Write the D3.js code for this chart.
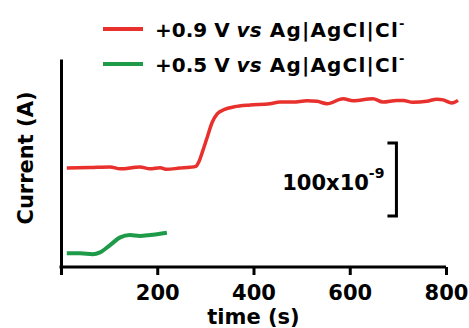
<!DOCTYPE html>
<html>
<head>
<meta charset="utf-8">
<script src="https://cdn.jsdelivr.net/npm/d3@7"></script>
<style>
  body { margin: 0; background: #fff; }
  text { font-family: "DejaVu Sans", sans-serif; font-weight: bold; fill: #000; }
</style>
</head>
<body>
<svg id="chart" width="469" height="328"></svg>
<script>
// time (s) and current (nA)
var redT = [12, 60, 102, 123, 164, 185, 206, 220, 247, 268, 280, 287, 294, 303, 314, 325, 340, 360, 393, 434, 455, 482, 511, 532, 553, 586, 607, 648, 669, 698, 711, 731, 760, 781, 794, 812, 825];
var redI = [135.6, 136.3, 137, 134.5, 137, 134.5, 136, 133.8, 135.6, 136.6, 138, 145, 158, 176, 198, 210, 216, 219.5, 222, 223.7, 226, 226, 227.8, 227, 223.7, 230.6, 227.8, 230.6, 226, 228.3, 228.3, 225.6, 227, 230, 229, 224.7, 228.3];
var greenT = [12, 40, 66, 81, 102, 123, 143, 164, 185, 220];
var greenI = [18.7, 18.7, 17.4, 20, 30, 40.6, 43.8, 42.5, 43.8, 47];
var xTicks = [0, 200, 400, 600, 800];
var legendLabels = ["+0.9 V", "+0.5 V"];
var scaleBarNA = [70, 170];

var red = "#e8302d",
    green = "#1d9b48";

var svg = d3.select("#chart");

var x = d3.scaleLinear().domain([0, 800]).range([61, 446]),
    y = d3.scaleLinear().domain([0, 285]).range([267, 59]);

var redData = redT.map(function(t, i) { return { t: t, v: redI[i] }; });
var greenData = greenT.map(function(t, i) { return { t: t, v: greenI[i] }; });

var line = d3.line()
    .x(function(d) { return x(d.t); })
    .y(function(d) { return y(d.v); })
    .curve(d3.curveMonotoneX);

// axes
var xAxis = svg.append("g")
    .attr("transform", "translate(0," + y(0) + ")")
    .call(d3.axisBottom(x).tickValues(xTicks).tickSize(8).tickSizeOuter(0)
        .tickFormat(function(d) { return d === 0 ? "" : d; }));
xAxis.select(".domain").attr("stroke-width", 3).attr("d", "M" + (x(0) - 1.5) + ",0H" + x(800));
xAxis.selectAll(".tick line").attr("stroke-width", 3);
xAxis.selectAll(".tick text").attr("font-size", 21).attr("dy", 0).attr("y", 33)
    .attr("font-family", "DejaVu Sans").attr("font-weight", "bold");

var yAxis = svg.append("g")
    .attr("transform", "translate(" + x(0) + ",0)")
    .call(d3.axisLeft(y).tickValues([]).tickSizeOuter(0));
yAxis.select(".domain").attr("stroke-width", 3);

svg.append("text")
    .attr("x", (x(0) + x(800)) / 2)
    .attr("y", 324)
    .attr("text-anchor", "middle")
    .attr("font-size", 21)
    .text("time (s)");

svg.append("text")
    .attr("transform", "rotate(-90)")
    .attr("x", -158)
    .attr("y", 33)
    .attr("text-anchor", "middle")
    .attr("font-size", 21)
    .text("Current (A)");

// traces
svg.append("path")
    .datum(redData)
    .attr("fill", "none")
    .attr("stroke", red)
    .attr("stroke-width", 3.5)
    .attr("stroke-linejoin", "round")
    .attr("d", line);

svg.append("path")
    .datum(greenData)
    .attr("fill", "none")
    .attr("stroke", green)
    .attr("stroke-width", 4)
    .attr("stroke-linejoin", "round")
    .attr("d", line);

// scale bar
var barX = x(697);
svg.append("path")
    .attr("fill", "none")
    .attr("stroke", "#000")
    .attr("stroke-width", 3)
    .attr("d", "M" + (barX - 9) + "," + y(scaleBarNA[1]) + "H" + barX + "V" + y(scaleBarNA[0]) + "H" + (barX - 9));

var sb = svg.append("text")
    .attr("x", barX - 12)
    .attr("y", (y(scaleBarNA[0]) + y(scaleBarNA[1])) / 2 + 11)
    .attr("text-anchor", "end")
    .attr("font-size", 21);
sb.append("tspan").text("100x10");
sb.append("tspan").attr("dy", -12).attr("font-size", 14).text("-9");

// legend
var legend = svg.append("g");
[red, green].forEach(function(c, i) {
    var ly = 29 + i * 35;
    legend.append("line")
        .attr("x1", 103).attr("x2", 143)
        .attr("y1", ly).attr("y2", ly)
        .attr("stroke", c).attr("stroke-width", 4);
    var t = legend.append("text")
        .attr("x", 155)
        .attr("y", ly + 7.5)
        .attr("font-size", 20);
    t.append("tspan").text(legendLabels[i] + " ");
    t.append("tspan").attr("font-style", "italic").text("vs");
    t.append("tspan").attr("letter-spacing", 1.2).text(" Ag|AgCl|Cl");
    t.append("tspan").attr("dy", -9).attr("font-size", 13).text("-");
});
</script>
</body>
</html>
